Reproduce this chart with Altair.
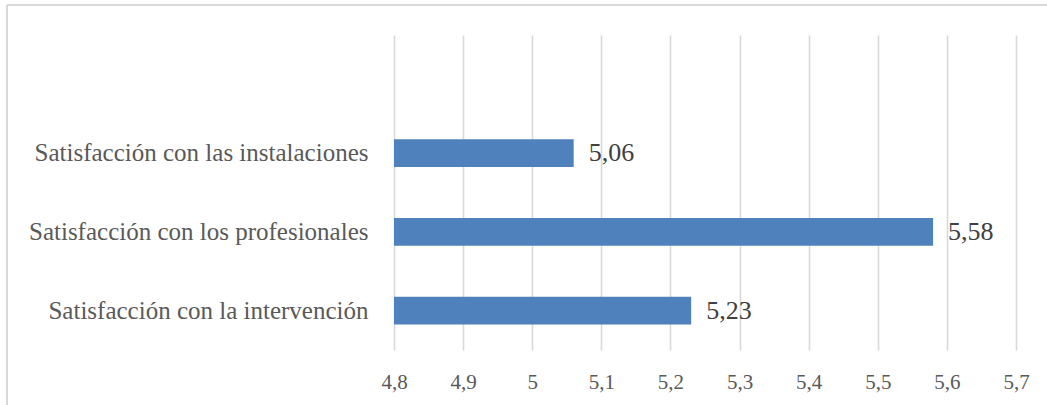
import altair as alt
import pandas as pd

categories = ["Satisfacción con las instalaciones",
              "Satisfacción con los profesionales",
              "Satisfacción con la intervención"]
values = [5.06, 5.58, 5.23]
y_order = [" "] + categories
x_ticks = [4.8, 4.9, 5.0, 5.1, 5.2, 5.3, 5.4, 5.5, 5.6, 5.7]

df = pd.DataFrame({
    "cat": categories,
    "val": values,
    "lab": [f"{v:.2f}".replace(".", ",") for v in values],
})

W, H = 622, 315
FONT = "Liberation Serif"

x_enc = alt.X("val:Q",
              scale=alt.Scale(domain=[4.8, 5.7], nice=False, zero=False),
              axis=alt.Axis(values=x_ticks, title=None, domain=False, ticks=False,
                            grid=True, gridColor="#d9d9d9", gridWidth=1.6,
                            labelExpr="replace(format(datum.value, '~g'), '.', ',')",
                            labelFont=FONT, labelFontSize=21, labelColor="#595959",
                            labelPadding=21, labelFlush=False))
y_enc = alt.Y("cat:N",
              scale=alt.Scale(domain=y_order, paddingInner=0.65, paddingOuter=0.325),
              axis=alt.Axis(title=None, domain=False, ticks=False, grid=False,
                            labelFont=FONT, labelFontSize=25, labelColor="#595959",
                            labelPadding=26, labelLimit=500))

base = alt.Chart(df)
bars = base.mark_bar(color="#4F81BD").encode(x=x_enc, x2=alt.X2(datum=4.8), y=y_enc)
text = base.mark_text(align="left", baseline="middle", dx=15, font=FONT,
                      fontSize=26, color="#404040").encode(
    x="val:Q", y=alt.Y("cat:N"), text="lab:N")

border_top = alt.Chart(df).mark_rule(color="#d9d9d9", strokeWidth=1.6).encode(
    x=alt.value(-387), x2=alt.value(W + 40), y=alt.value(-30))
border_left = alt.Chart(df).mark_rule(color="#d9d9d9", strokeWidth=1.6).encode(
    x=alt.value(-387), y=alt.value(-30), y2=alt.value(H + 60))

chart = alt.layer(bars, text, border_top, border_left).properties(
    width=W, height=H,
    autosize=alt.AutoSizeParams(type="none"),
    padding={"left": 394, "top": 35, "right": 31, "bottom": 55},
    background="white",
).configure_view(stroke=None)

chart.save("out.html", embed_options={"renderer": "svg", "actions": False})
